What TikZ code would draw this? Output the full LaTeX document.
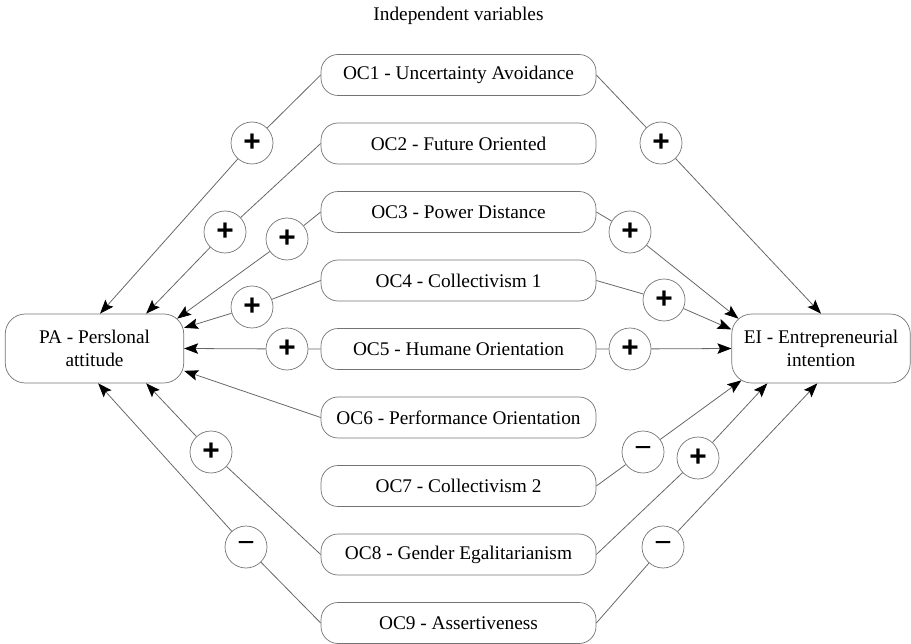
\documentclass[tikz,border=0pt]{standalone}
\usepackage{fontspec}
\setmainfont{Liberation Serif}
\setsansfont{Liberation Sans}
\usetikzlibrary{arrows.meta}

\begin{document}
\begin{tikzpicture}[x=0.02cm, y=-0.02cm,
        var/.style={rectangle, rounded corners=0.34cm, draw=black!55, minimum width=5.5cm, minimum height=0.82cm, inner sep=0pt, font=\fontsize{11}{13}\selectfont},
        dep/.style={rectangle, rounded corners=0.4cm, draw=black!55, minimum width=3.57cm, minimum height=1.38cm, inner sep=0pt, align=center, font=\fontsize{11}{13}\selectfont},
        sign/.style={circle, draw=black!55, minimum size=0.84cm, inner sep=0pt, font=\sffamily\fontsize{17}{17}\selectfont},
        link/.style={draw=black!60, line width=0.45pt, -{Stealth[length=8pt, width=6pt, inset=1.5pt, color=black]}}]
        \useasboundingbox (0,0) rectangle (911,644);

        % Title
        \node at (458.5,16) (title) {\fontsize{11}{13}\selectfont Independent variables};

        % Independent variables
        \node at (458.5,75) [var] (OC1) {OC1 - Uncertainty Avoidance};
        \node at (458.5,143.5) [var] (OC2) {OC2 - Future Oriented};
        \node at (458.5,212) [var] (OC3) {OC3 - Power Distance};
        \node at (458.5,280.5) [var] (OC4) {OC4 - Collectivism 1};
        \node at (458.5,349) [var] (OC5) {OC5 - Humane Orientation};
        \node at (458.5,417.5) [var] (OC6) {OC6 - Performance Orientation};
        \node at (458.5,486) [var] (OC7) {OC7 - Collectivism 2};
        \node at (458.5,554.5) [var] (OC8) {OC8 - Gender Egalitarianism};
        \node at (458.5,623) [var] (OC9) {OC9 - Assertiveness};

        % Dependent variables
        \node at (94.5,348.5) [dep] (PA) {PA - Perslonal\\attitude};
        \node at (821,348.5) [dep] (EI) {EI - Entrepreneurial\\intention};

        % Signs
        \node at (252,143) [sign] (L1) {\textbf{+}};
        \node at (225,232) [sign] (L2) {\textbf{+}};
        \node at (287,239) [sign] (L3) {\textbf{+}};
        \node at (252,307) [sign] (L4) {\textbf{+}};
        \node at (287,349) [sign] (L5) {\textbf{+}};
        \node at (211,452) [sign] (L8) {\textbf{+}};
        \node at (246,547) [sign] (L9) {−};

        \node at (661,143) [sign] (R1) {\textbf{+}};
        \node at (630,232) [sign] (R3) {\textbf{+}};
        \node at (664,300) [sign] (R4) {\textbf{+}};
        \node at (630,349) [sign] (R5) {\textbf{+}};
        \node at (643,452) [sign] (R7) {−};
        \node at (698,458) [sign] (R8) {\textbf{+}};
        \node at (663,547) [sign] (R9) {−};

        % Arrows to PA
        \draw[link] (OC1.west) -- (L1) -- (PA.81);
        \draw[link] (OC2.west) -- (L2) -- (PA.34);
        \draw[link] (OC3.west) -- (L3) -- ([shift={(-7,5)}]PA.north east);
        \draw[link] (OC4.west) -- (L4) -- (PA.13);
        \draw[link] (OC5.west) -- (L5) -- (PA.east);
        \draw[link] (OC6.west) -- (PA.-14);
        \draw[link] (OC8.west) -- (L8) -- (PA.-34);
        \draw[link] (OC9.west) -- (L9) -- (PA.-84);

        % Arrows to EI
        \draw[link] (OC1.east) -- (R1) -- (EI.north);
        \draw[link] (OC3.east) -- (R3) -- ([shift={(7,5)}]EI.north west);
        \draw[link] (OC4.east) -- (R4) -- (EI.168);
        \draw[link] (OC5.east) -- (R5) -- (EI.west);
        \draw[link] (OC7.east) -- (R7) -- ([shift={(10,-3)}]EI.south west);
        \draw[link] (OC8.east) -- (R8) -- (EI.-147);
        \draw[link] (OC9.east) -- (R9) -- (EI.-96);

    \end{tikzpicture}
\end{document}
